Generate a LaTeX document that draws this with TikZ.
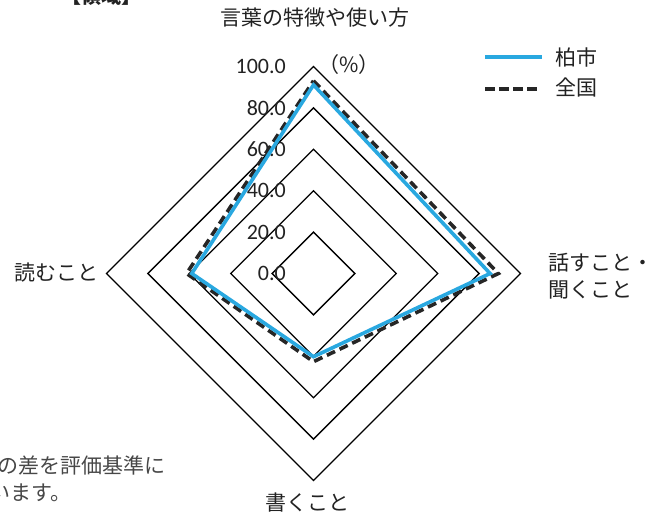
\documentclass[tikz,border=0pt]{standalone}
\usepackage{fontspec}
\setmainfont{Carlito}
\newfontfamily\jp{Noto Sans CJK JP}
\definecolor{kblue}{HTML}{29A8E0}
\definecolor{txt}{HTML}{222222}
\begin{document}
\begin{tikzpicture}[x=1pt,y=-1pt,
  gridline/.style={line width=1.3pt,black,line join=miter},
  cityline/.style={line width=3.6pt,kblue,line join=miter},
  natline/.style={line width=3.6pt,black!85,dash pattern=on 9pt off 5pt,line join=miter},
  jplabel/.style={font=\jp\fontsize{21}{24}\selectfont,text=txt,inner sep=0pt},
  numlabel/.style={font=\fontsize{22}{24}\selectfont,text=txt,inner sep=0pt,anchor=east},
  notetext/.style={font=\jp\fontsize{21}{24}\selectfont,text=black!72,inner sep=0pt}]
\useasboundingbox (0,0) rectangle (656,514);
% cut-off heading and note text
\node[jplabel,font=\jp\bfseries\fontsize{20}{24}\selectfont,anchor=base] (head) at (101,3) {【領域】};
\node[notetext,anchor=west] (note1) at (-3,465) {の差を評価基準に};
\node[notetext,anchor=east] (note2) at (72,493) {います。};
% radar chart
\begin{scope}[shift={(313.5,273.5)},x=2.07pt,y=2.07pt]
  \foreach \v in {20,40,60,80,100}{
    \draw[gridline] (0,\v) -- (\v,0) -- (0,-\v) -- (-\v,0) -- cycle;
  }
  \foreach \v/\t in {0/0.0,20/20.0,40/40.0,60/60.0,80/80.0,100/100.0}{
    \node[numlabel] (n\v) at (-13.3,\v) {\t};
  }
  \coordinate (nT) at (0,93.1);
  \coordinate (nR) at (89.3,0);
  \coordinate (nB) at (0,-42.6);
  \coordinate (nL) at (-61.3,0);
  \coordinate (kT) at (0,91.1);
  \coordinate (kR) at (85.3,0);
  \coordinate (kB) at (0,-40.2);
  \coordinate (kL) at (-58.8,0);
  \draw[natline] (nT) -- (nR) -- (nB) -- (nL) -- cycle;
  \draw[cityline] (kT) -- (kR) -- (kB) -- (kL) -- cycle;
\end{scope}
% axis labels
\node[jplabel] (top) at (315,18) {言葉の特徴や使い方};
\node[jplabel,anchor=west] (pct) at (318,65) {（\%）};
\node[jplabel,anchor=west] (r1) at (548,263) {話すこと・};
\node[jplabel,anchor=west] (r2) at (548,290) {聞くこと};
\node[jplabel,anchor=east] (left) at (99,273) {読むこと};
\node[jplabel] (bot) at (307,503) {書くこと};
% legend
\coordinate (la1) at (485,57);
\coordinate (la2) at (542,57);
\coordinate (lb1) at (485,89);
\coordinate (lb2) at (538,89);
\draw[cityline,line width=3.4pt] (la1) -- (la2);
\draw[natline,line width=3.4pt,dash pattern=on 10pt off 4pt] (lb1) -- (lb2);
\node[jplabel,anchor=west] (lg1) at (555,57) {柏市};
\node[jplabel,anchor=west] (lg2) at (555,87) {全国};
\end{tikzpicture}
\end{document}
